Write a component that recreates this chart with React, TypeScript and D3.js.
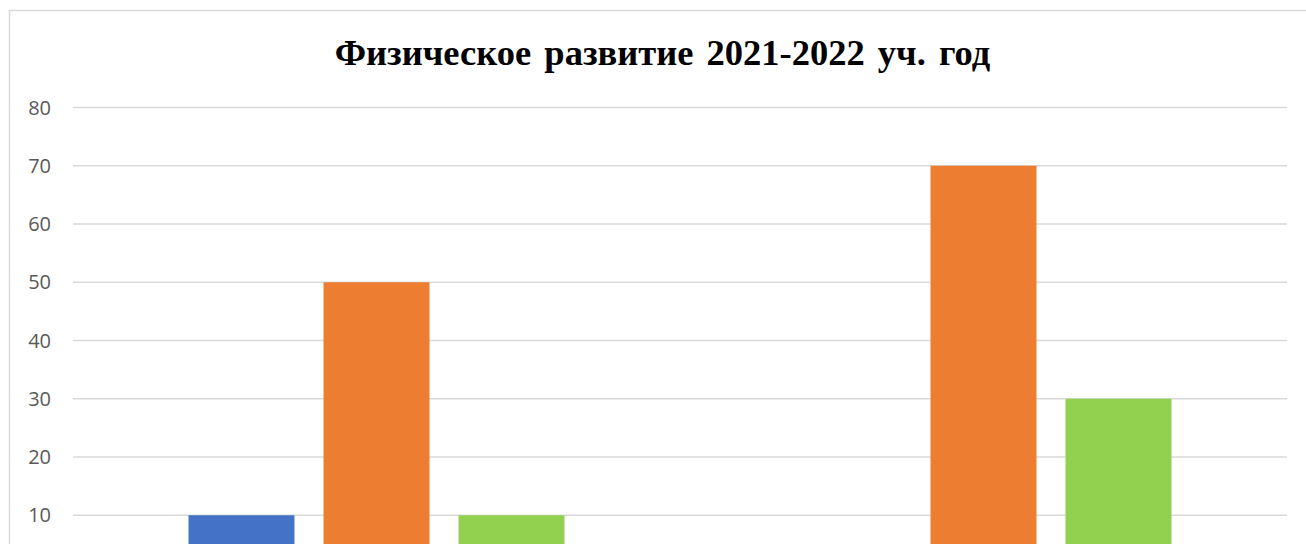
import React from "react";
import * as d3 from "d3";

const categories = ["2021", "2022"];
const seriesNames = ["Высокий", "Средний", "Низкий"];
const seriesColors = ["#4472C4", "#ED7D31", "#92D050"];
const seriesValues = [
  [10, 0],
  [50, 70],
  [10, 30],
];
const yTicks = [10, 20, 30, 40, 50, 60, 70, 80];
const title = "Физическое развитие 2021-2022 уч. год";

const W = 1306;
const H = 544;

export default function App() {
  const x = d3.scaleBand<string>().domain(categories).range([73, 1287]);
  // bars 106 wide, 29 apart, centered in each band
  const inner = d3
    .scaleBand<string>()
    .domain(seriesNames)
    .range([115.5, x.bandwidth() - 115.5])
    .paddingInner(0.215);
  const y = d3.scaleLinear().domain([0, 80]).range([573.5, 107.5]);

  return (
    <div style={{ position: "fixed", left: 0, top: 0, background: "#fff" }}>
      <svg width={W} height={H} style={{ display: "block" }}>
        <rect x={0} y={0} width={W} height={H} fill="#fff" />
        <rect x={9.5} y={10.5} width={W + 20} height={H + 20} fill="none" stroke="#d9d9d9" strokeWidth={1.5} />
        <text
          x={662.5}
          y={65}
          textAnchor="middle"
          fontFamily="'Liberation Serif', 'Times New Roman', serif"
          fontWeight="bold"
          fontSize={36.5}
          wordSpacing={4}
          fill="#000"
        >
          {title}
        </text>
        {yTicks.map((t) => (
          <g key={t}>
            <line x1={73} x2={1287} y1={y(t)} y2={y(t)} stroke="#d9d9d9" strokeWidth={1.5} />
            <text
              x={51}
              y={y(t)}
              dy="0.36em"
              textAnchor="end"
              fontFamily="'Open Sans', sans-serif"
              fontSize={20}
              fill="#595959"
            >
              {t}
            </text>
          </g>
        ))}
        {seriesNames.map((s, si) =>
          categories.map((c, ci) => {
            const v = seriesValues[si][ci];
            return (
              <rect
                key={s + c}
                x={(x(c) ?? 0) + (inner(s) ?? 0)}
                y={y(v)}
                width={inner.bandwidth()}
                height={y(0) - y(v)}
                fill={seriesColors[si]}
              />
            );
          })
        )}
      </svg>
    </div>
  );
}
